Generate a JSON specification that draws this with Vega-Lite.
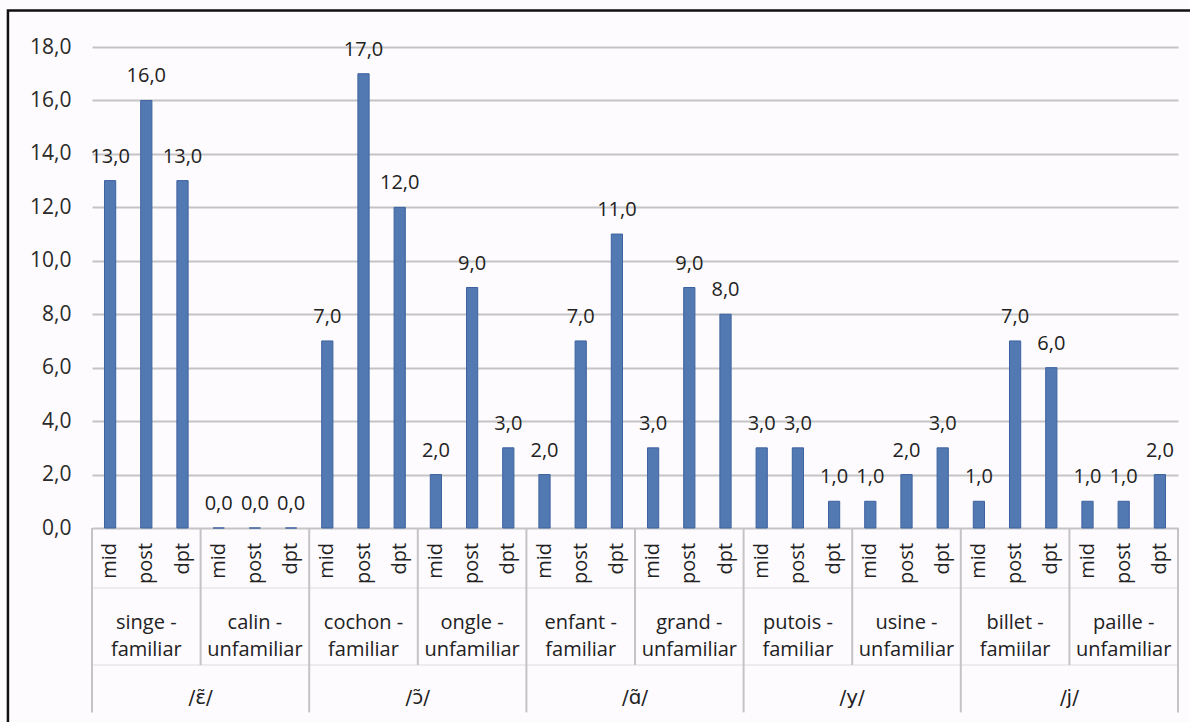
{
  "$schema": "https://vega.github.io/schema/vega-lite/v6.json",
  "width": 1086,
  "height": 481,
  "autosize": {"type": "none"},
  "padding": {"left": 92, "top": 47, "right": 12, "bottom": 194},
  "background": "#fdfbfe",
  "config": {
    "view": {"stroke": null},
    "font": "Open Sans",
    "locale": {"number": {"decimal": ",", "thousands": ".", "grouping": [3], "currency": ["", " €"]}}
  },
  "datasets": {
    "bars": [
      {"id": "singe-mid", "pos": "mid", "n": 13}, {"id": "singe-post", "pos": "post", "n": 16}, {"id": "singe-dpt", "pos": "dpt", "n": 13},
      {"id": "calin-mid", "pos": "mid", "n": 0}, {"id": "calin-post", "pos": "post", "n": 0}, {"id": "calin-dpt", "pos": "dpt", "n": 0},
      {"id": "cochon-mid", "pos": "mid", "n": 7}, {"id": "cochon-post", "pos": "post", "n": 17}, {"id": "cochon-dpt", "pos": "dpt", "n": 12},
      {"id": "ongle-mid", "pos": "mid", "n": 2}, {"id": "ongle-post", "pos": "post", "n": 9}, {"id": "ongle-dpt", "pos": "dpt", "n": 3},
      {"id": "enfant-mid", "pos": "mid", "n": 2}, {"id": "enfant-post", "pos": "post", "n": 7}, {"id": "enfant-dpt", "pos": "dpt", "n": 11},
      {"id": "grand-mid", "pos": "mid", "n": 3}, {"id": "grand-post", "pos": "post", "n": 9}, {"id": "grand-dpt", "pos": "dpt", "n": 8},
      {"id": "putois-mid", "pos": "mid", "n": 3}, {"id": "putois-post", "pos": "post", "n": 3}, {"id": "putois-dpt", "pos": "dpt", "n": 1},
      {"id": "usine-mid", "pos": "mid", "n": 1}, {"id": "usine-post", "pos": "post", "n": 2}, {"id": "usine-dpt", "pos": "dpt", "n": 3},
      {"id": "billet-mid", "pos": "mid", "n": 1}, {"id": "billet-post", "pos": "post", "n": 7}, {"id": "billet-dpt", "pos": "dpt", "n": 6},
      {"id": "paille-mid", "pos": "mid", "n": 1}, {"id": "paille-post", "pos": "post", "n": 1}, {"id": "paille-dpt", "pos": "dpt", "n": 2}
    ],
    "words": [
      {"id": "singe-post", "label": "singe -\nfamiliar"},
      {"id": "calin-post", "label": "calin -\nunfamiliar"},
      {"id": "cochon-post", "label": "cochon -\nfamiliar"},
      {"id": "ongle-post", "label": "ongle -\nunfamiliar"},
      {"id": "enfant-post", "label": "enfant -\nfamiliar"},
      {"id": "grand-post", "label": "grand -\nunfamiliar"},
      {"id": "putois-post", "label": "putois -\nfamiliar"},
      {"id": "usine-post", "label": "usine -\nunfamiliar"},
      {"id": "billet-post", "label": "billet -\nfamiilar"},
      {"id": "paille-post", "label": "paille -\nunfamiliar"}
    ],
    "phonemes": [
      {"id": "singe-dpt", "label": "/ɛ̃/"},
      {"id": "cochon-dpt", "label": "/ɔ̃/"},
      {"id": "enfant-dpt", "label": "/ɑ̃/"},
      {"id": "putois-dpt", "label": "/y/"},
      {"id": "billet-dpt", "label": "/j/"}
    ],
    "seps": [
      {"id": "singe-dpt", "level": "word"},
      {"id": "cochon-dpt", "level": "word"},
      {"id": "enfant-dpt", "level": "word"},
      {"id": "putois-dpt", "level": "word"},
      {"id": "billet-dpt", "level": "word"},
      {"id": "calin-dpt", "level": "phoneme"},
      {"id": "ongle-dpt", "level": "phoneme"},
      {"id": "grand-dpt", "level": "phoneme"},
      {"id": "usine-dpt", "level": "phoneme"},
      {"id": "paille-dpt", "level": "phoneme"}
    ],
    "edge": [{"id": "singe-mid"}],
    "frame": [{"part": "frame"}]
  },
  "resolve": {"scale": {"x": "independent", "y": "independent"}},
  "layer": [
    {
      "data": {"name": "frame"},
      "mark": {"type": "rect", "fill": null, "stroke": "#111111", "strokeWidth": 2.5, "clip": false},
      "encoding": {
        "x": {"datum": -0.0774, "type": "quantitative", "scale": {"domain": [0, 1]}, "axis": null},
        "x2": {"datum": 1.03},
        "y": {"datum": 1.076, "type": "quantitative", "scale": {"domain": [0, 1]}, "axis": null},
        "y2": {"datum": -0.5}
      }
    },
    {
      "layer": [
        {
          "data": {"name": "bars"},
          "mark": {"type": "bar", "width": {"band": 0.31}, "fill": "#5279b2", "stroke": "#3d62a0", "strokeWidth": 1},
          "encoding": {
            "x": {
              "field": "id", "type": "nominal", "axis": null,
              "scale": {
                "domain": ["singe-mid","singe-post","singe-dpt","calin-mid","calin-post","calin-dpt","cochon-mid","cochon-post","cochon-dpt","ongle-mid","ongle-post","ongle-dpt","enfant-mid","enfant-post","enfant-dpt","grand-mid","grand-post","grand-dpt","putois-mid","putois-post","putois-dpt","usine-mid","usine-post","usine-dpt","billet-mid","billet-post","billet-dpt","paille-mid","paille-post","paille-dpt"],
                "paddingInner": 0, "paddingOuter": 0
              }
            },
            "y": {
              "field": "n", "type": "quantitative",
              "scale": {"domain": [0, 18], "nice": false, "zero": true},
              "axis": {
                "title": null, "values": [0, 2, 4, 6, 8, 10, 12, 14, 16, 18], "format": ".1f",
                "domain": false, "ticks": false, "labelPadding": 21, "labelFontSize": 21,
                "labelColor": "#2a2a2a", "grid": true, "gridColor": "#c4c4c4", "gridWidth": 2
              }
            }
          }
        },
        {
          "data": {"name": "bars"},
          "mark": {"type": "text", "baseline": "alphabetic", "dy": -18, "fontSize": 20, "color": "#222222"},
          "encoding": {
            "x": {"field": "id", "type": "nominal"},
            "y": {"field": "n", "type": "quantitative"},
            "text": {"field": "n", "type": "quantitative", "format": ".1f"}
          }
        },
        {
          "data": {"name": "bars"},
          "mark": {"type": "rule", "color": "#ececec", "strokeWidth": 1},
          "encoding": {"y": {"datum": -2.25, "type": "quantitative"}}
        },
        {
          "data": {"name": "bars"},
          "mark": {"type": "rule", "color": "#ececec", "strokeWidth": 1},
          "encoding": {"y": {"datum": -5.13, "type": "quantitative"}}
        },
        {
          "data": {"name": "bars"},
          "mark": {"type": "text", "angle": 270, "align": "right", "baseline": "middle", "fontSize": 20, "color": "#222222"},
          "encoding": {
            "x": {"field": "id", "type": "nominal"},
            "y": {"datum": -0.56, "type": "quantitative"},
            "text": {"field": "pos", "type": "nominal"}
          }
        },
        {
          "data": {"name": "words"},
          "mark": {"type": "text", "align": "center", "baseline": "middle", "lineBreak": "\n", "lineHeight": 27, "fontSize": 20, "color": "#222222"},
          "encoding": {
            "x": {"field": "id", "type": "nominal"},
            "y": {"datum": -3.56, "type": "quantitative"},
            "text": {"field": "label", "type": "nominal"}
          }
        },
        {
          "data": {"name": "phonemes"},
          "mark": {"type": "text", "align": "center", "baseline": "middle", "fontSize": 20, "font": "DejaVu Sans", "color": "#222222"},
          "encoding": {
            "x": {"field": "id", "type": "nominal", "bandPosition": 1},
            "y": {"datum": -6.36, "type": "quantitative"},
            "text": {"field": "label", "type": "nominal"}
          }
        },
        {
          "data": {"name": "seps"},
          "transform": [{"filter": "datum.level === 'word'"}],
          "mark": {"type": "rule", "color": "#c4c4c4", "strokeWidth": 2},
          "encoding": {
            "x": {"field": "id", "type": "nominal", "bandPosition": 1},
            "y": {"datum": 0, "type": "quantitative"},
            "y2": {"datum": -5.13}
          }
        },
        {
          "data": {"name": "seps"},
          "transform": [{"filter": "datum.level === 'phoneme'"}],
          "mark": {"type": "rule", "color": "#c4c4c4", "strokeWidth": 2},
          "encoding": {
            "x": {"field": "id", "type": "nominal", "bandPosition": 1},
            "y": {"datum": 0, "type": "quantitative"},
            "y2": {"datum": -6.9}
          }
        },
        {
          "data": {"name": "edge"},
          "mark": {"type": "rule", "color": "#c4c4c4", "strokeWidth": 2},
          "encoding": {
            "x": {"field": "id", "type": "nominal", "bandPosition": 0},
            "y": {"datum": 0, "type": "quantitative"},
            "y2": {"datum": -6.9}
          }
        }
      ]
    }
  ]
}
